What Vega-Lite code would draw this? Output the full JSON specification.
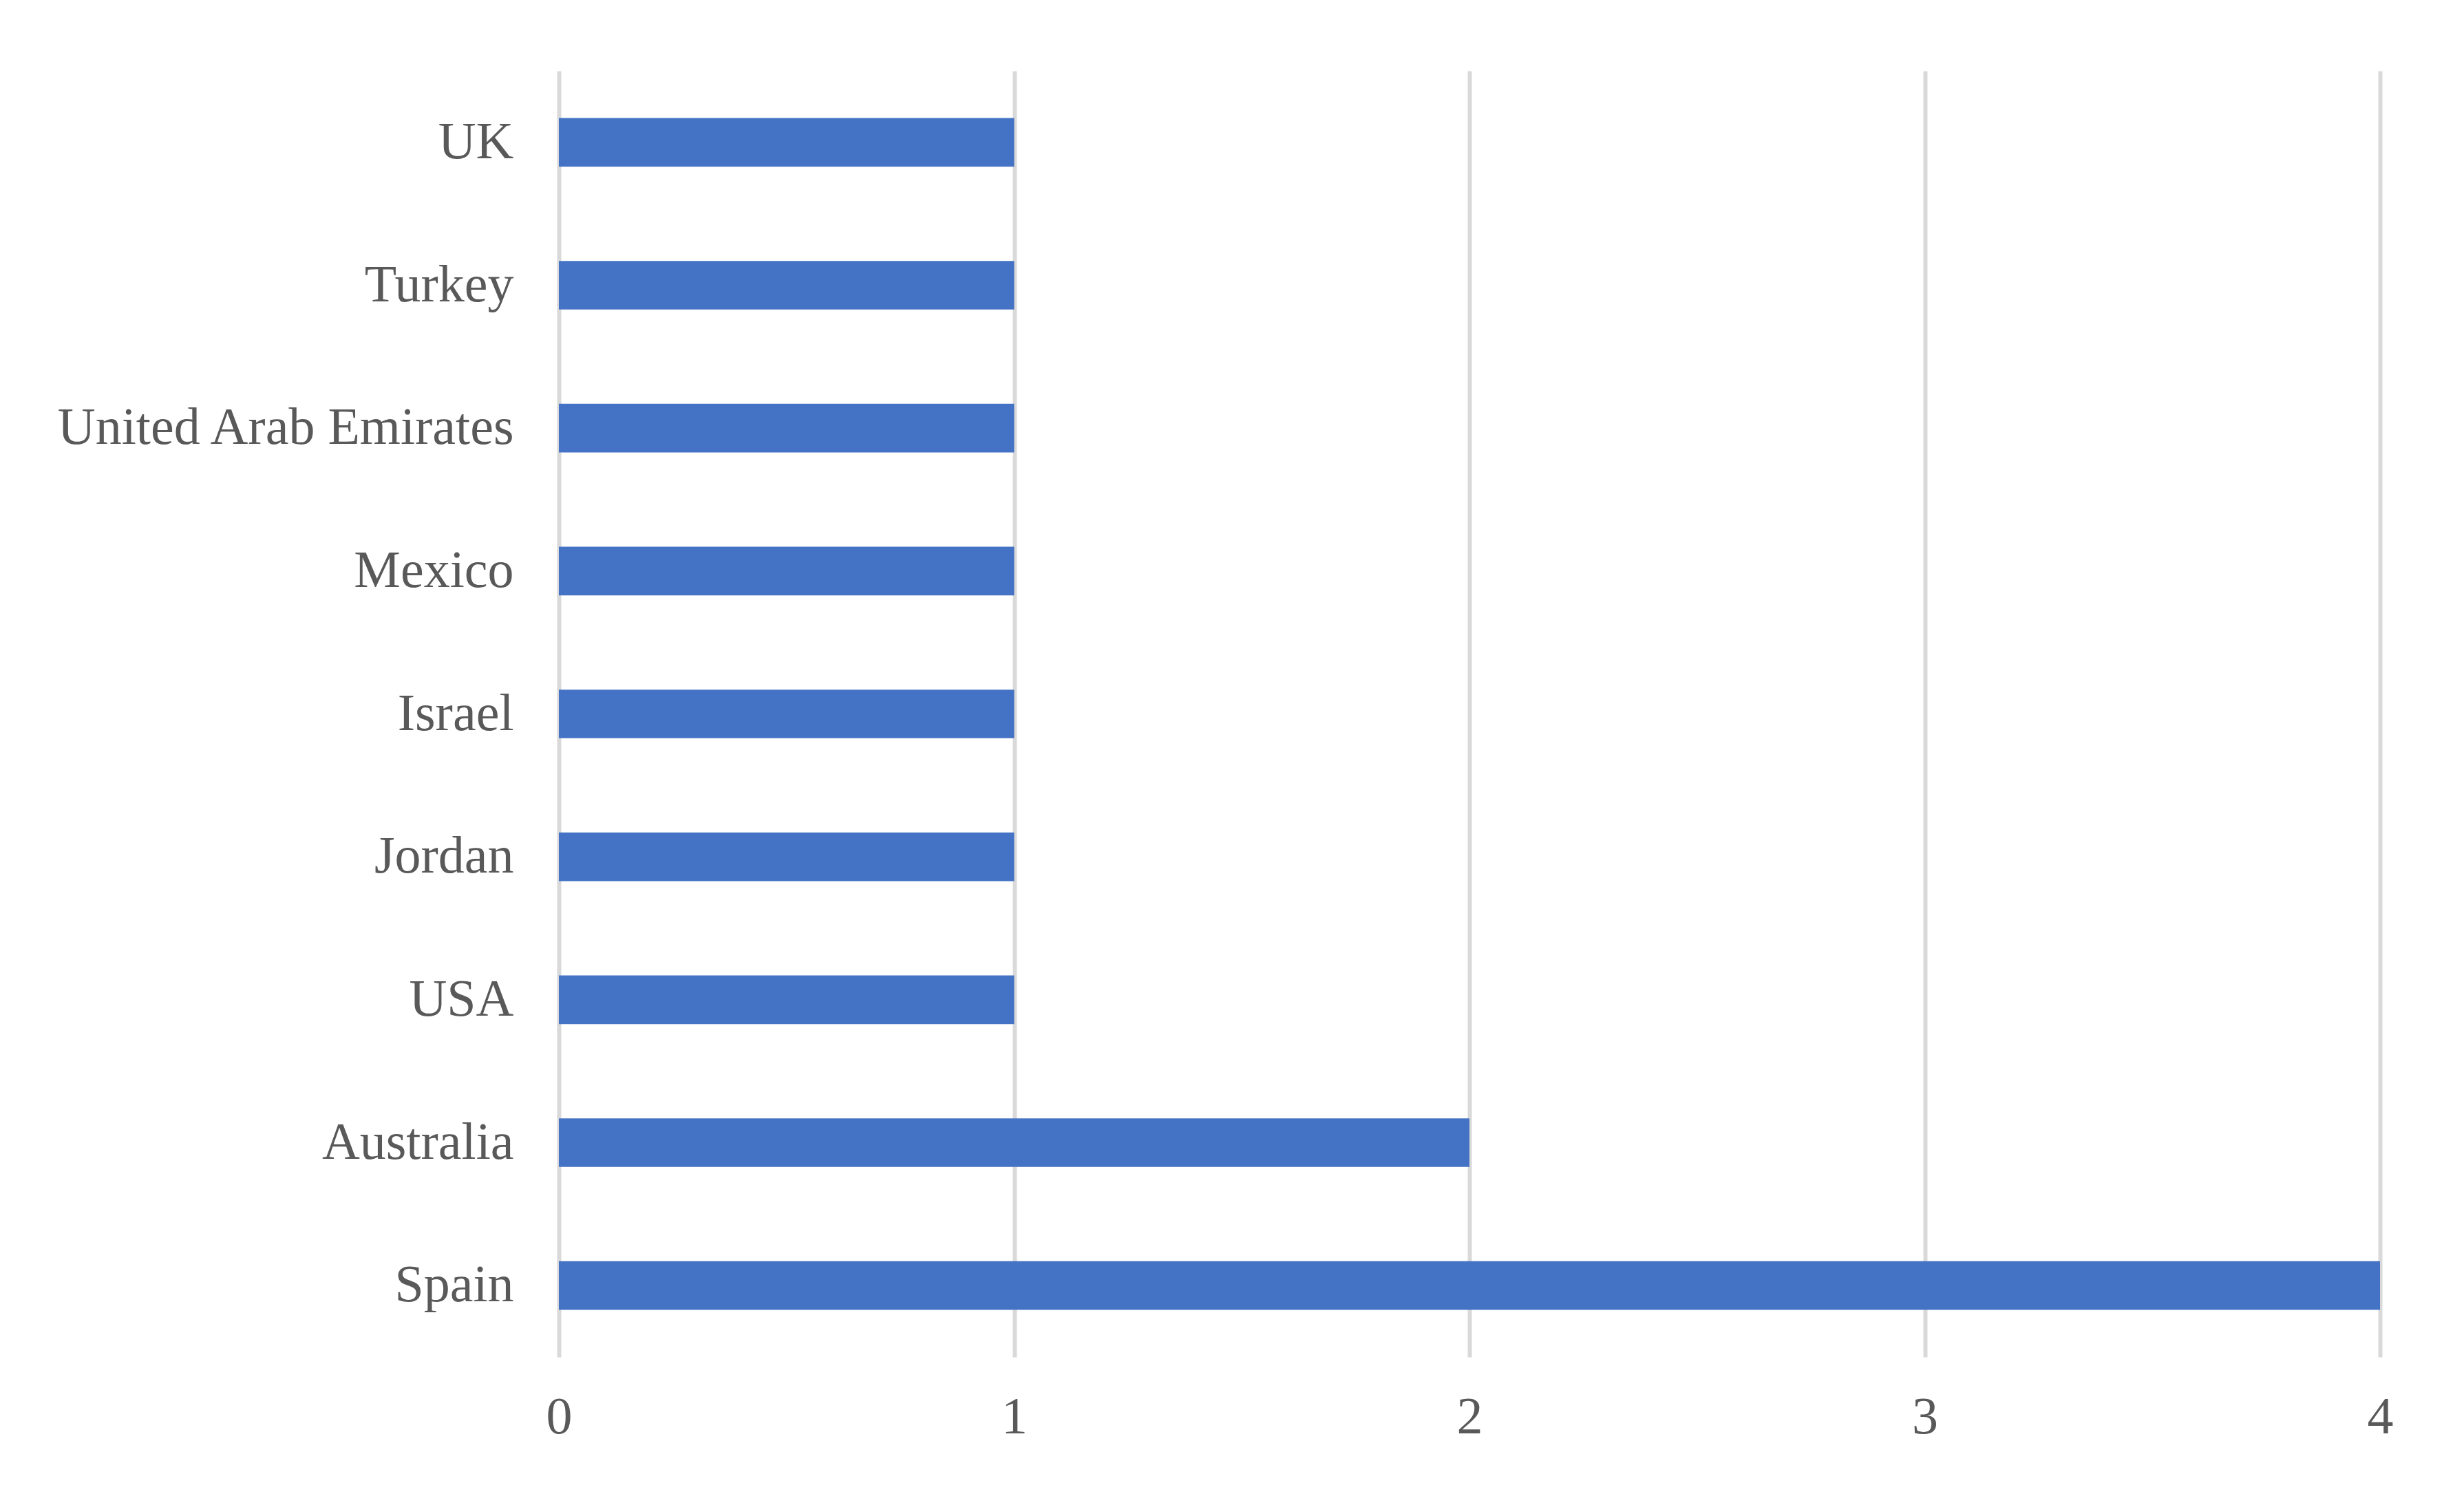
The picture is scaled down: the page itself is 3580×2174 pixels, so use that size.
{
  "$schema": "https://vega.github.io/schema/vega-lite/v6.json",
  "width": 2646,
  "height": 1869,
  "padding": {"left": 79, "top": 103, "right": 110, "bottom": 80},
  "background": "white",
  "data": {
    "values": [
      {"country": "UK", "count": 1},
      {"country": "Turkey", "count": 1},
      {"country": "United Arab Emirates ", "count": 1},
      {"country": "Mexico", "count": 1},
      {"country": "Israel", "count": 1},
      {"country": "Jordan", "count": 1},
      {"country": "USA", "count": 1},
      {"country": "Australia", "count": 2},
      {"country": "Spain", "count": 4}
    ]
  },
  "mark": {"type": "bar", "color": "#4472C4"},
  "encoding": {
    "y": {
      "field": "country",
      "type": "nominal",
      "sort": null,
      "scale": {"paddingInner": 0.66, "paddingOuter": 0.33},
      "axis": {
        "title": null,
        "domain": false,
        "ticks": false,
        "grid": false,
        "labelFont": "Liberation Serif",
        "labelFontSize": 76,
        "labelColor": "#595959",
        "labelPadding": 66,
        "labelLimit": 0
      }
    },
    "x": {
      "field": "count",
      "type": "quantitative",
      "scale": {"domain": [0, 4], "nice": false},
      "axis": {
        "title": null,
        "values": [0, 1, 2, 3, 4],
        "format": "d",
        "domain": false,
        "ticks": false,
        "grid": true,
        "gridColor": "#d9d9d9",
        "gridWidth": 6,
        "labelFont": "Liberation Serif",
        "labelFontSize": 76,
        "labelColor": "#595959",
        "labelPadding": 50,
        "labelFlush": false
      }
    }
  },
  "config": {"view": {"stroke": null}}
}
